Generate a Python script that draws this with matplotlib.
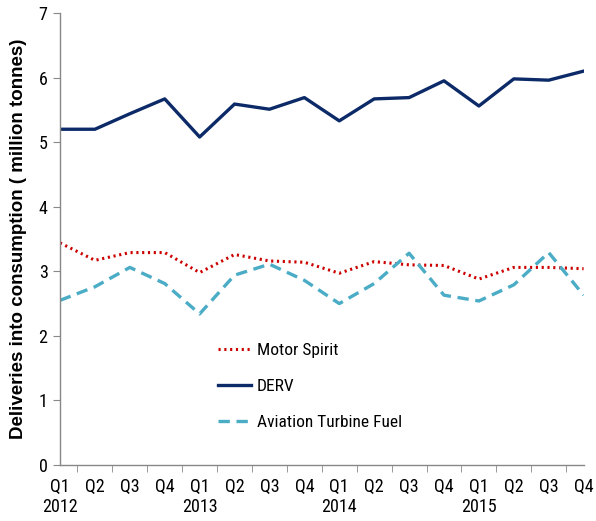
import matplotlib
matplotlib.use("Agg")
import matplotlib.pyplot as plt
from matplotlib import font_manager

quarters = ["Q1", "Q2", "Q3", "Q4"] * 4
years = ["2012", "", "", "", "2013", "", "", "", "2014", "", "", "", "2015", "", "", ""]
tick_labels = [q + ("\n" + y if y else "") for q, y in zip(quarters, years)]

derv = [5.20, 5.20, 5.44, 5.67, 5.08, 5.59, 5.51, 5.69, 5.33, 5.67, 5.69, 5.95, 5.56, 5.98, 5.96, 6.10]
motor_spirit = [3.44, 3.17, 3.29, 3.29, 2.98, 3.26, 3.16, 3.14, 2.97, 3.15, 3.10, 3.09, 2.88, 3.06, 3.06, 3.04]
aviation = [2.55, 2.76, 3.06, 2.81, 2.34, 2.94, 3.11, 2.86, 2.50, 2.81, 3.28, 2.63, 2.54, 2.79, 3.29, 2.63]

names = {f.name for f in font_manager.fontManager.ttflist}
narrow = [n for n in ["Liberation Sans Narrow", "Arial Narrow", "Roboto Condensed",
                      "DejaVu Sans Condensed", "Open Sans Condensed"] if n in names]
narrow_fam = narrow[:1] + ["Liberation Sans", "DejaVu Sans"]
plt.rcParams['font.family'] = narrow_fam
fs_tick = 13 if narrow else 11
fs_leg = 12.5 if narrow else 12

fig = plt.figure(figsize=(5.96, 5.21), dpi=100)
ax = fig.add_axes([0.1007, 0.1075, 0.8785, 0.8675])

x = list(range(len(derv)))
ax.plot(x, motor_spirit, color="#cc0000", lw=2.2, linestyle=(0, (0.7, 1.2)), label="Motor Spirit")
ax.plot(x, derv, color="#0c2a68", lw=2.4, label="DERV")
ax.plot(x, aviation, color="#4bacc6", lw=2.4, linestyle=(0, (3.4, 2.0)), label="Aviation Turbine Fuel")

ax.set_xlim(0, len(x) - 1)
ax.set_ylim(0, 7)
ax.set_yticks(range(0, 8))
ax.set_xticks(x)
ax.set_xticklabels(tick_labels, fontsize=fs_tick, linespacing=1.15)
ax.tick_params(axis='x', length=0, pad=9)
ax.set_xticks([i + 0.5 for i in range(len(x) - 1)] + [len(x) - 1], minor=True)
ax.tick_params(axis='x', which='minor', length=5, color="#888888", direction='out')
ax.tick_params(axis='y', labelsize=fs_tick, length=5, color="#888888", direction='out', pad=4)
for s in ["top", "right"]:
    ax.spines[s].set_visible(False)
for s in ["left", "bottom"]:
    ax.spines[s].set_color("#888888")
    ax.spines[s].set_linewidth(1.0)

ax.set_ylabel("Deliveries into consumption ( million tonnes)", fontsize=13.5, fontweight="bold",
              family=["Liberation Sans", "DejaVu Sans"], labelpad=8)

leg = ax.legend(loc="center left", bbox_to_anchor=(0.339, 0.258), bbox_transform=fig.transFigure,
                frameon=False, fontsize=fs_leg, handlelength=1.9, labelspacing=1.2, handletextpad=0.35)

fig.savefig("out.png", dpi=100)
